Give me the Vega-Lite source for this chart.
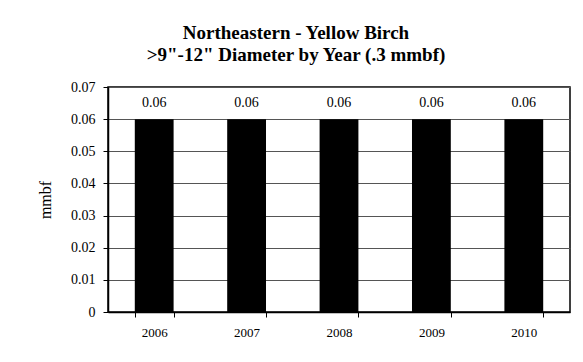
{
  "$schema": "https://vega.github.io/schema/vega-lite/v6.json",
  "width": 462,
  "height": 225,
  "autosize": {"type": "none"},
  "padding": {"left": 108, "top": 87, "right": 13, "bottom": 50},
  "background": "white",
  "config": {
    "font": "Liberation Serif",
    "view": {"stroke": "black", "strokeWidth": 1.5},
    "axis": {"labelFont": "Liberation Serif", "titleFont": "Liberation Serif", "labelColor": "black", "titleColor": "black"}
  },
  "title": {
    "text": ["Northeastern - Yellow Birch", ">9\"-12\" Diameter by Year (.3 mmbf)"],
    "font": "Liberation Serif",
    "fontSize": 19,
    "fontWeight": "bold",
    "lineHeight": 22,
    "anchor": "middle",
    "dx": -43,
    "offset": 15,
    "color": "black"
  },
  "data": {
    "values": [
      {"year": "2006", "mmbf": 0.06},
      {"year": "2007", "mmbf": 0.06},
      {"year": "2008", "mmbf": 0.06},
      {"year": "2009", "mmbf": 0.06},
      {"year": "2010", "mmbf": 0.06}
    ]
  },
  "encoding": {
    "x": {
      "field": "year",
      "type": "ordinal",
      "scale": {"paddingInner": 0.58, "paddingOuter": 0.29},
      "axis": {
        "title": null,
        "labelAngle": 0,
        "labelFontSize": 13,
        "labelPadding": 9,
        "tickBand": "extent",
        "tickSize": 5,
        "tickColor": "black",
        "domainColor": "black",
        "domainWidth": 1.5
      }
    },
    "y": {
      "field": "mmbf",
      "type": "quantitative",
      "scale": {"domain": [0, 0.07], "nice": false},
      "axis": {
        "title": "mmbf",
        "titleFontSize": 16,
        "titleFontWeight": "normal",
        "titlePadding": 17,
        "values": [0, 0.01, 0.02, 0.03, 0.04, 0.05, 0.06, 0.07],
        "format": ".2~f",
        "labelFontSize": 14,
        "labelPadding": 8,
        "tickSize": 5,
        "tickColor": "black",
        "domainColor": "black",
        "domainWidth": 1.5,
        "grid": true,
        "gridColor": "#555555",
        "gridWidth": 1
      }
    }
  },
  "layer": [
    {"mark": {"type": "bar", "color": "black"}},
    {
      "mark": {"type": "text", "dy": -16, "fontSize": 14, "font": "Liberation Serif", "color": "black"},
      "encoding": {"text": {"field": "mmbf", "type": "quantitative", "format": ".2f"}}
    }
  ]
}
